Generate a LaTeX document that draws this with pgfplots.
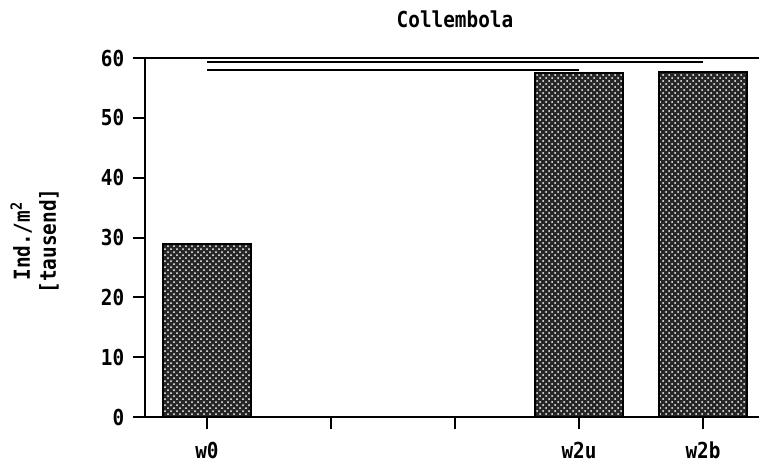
\documentclass[border=0pt]{standalone}
\usepackage{fontspec}
\setmainfont{DejaVu Sans Mono}[FakeStretch=0.88]
\usepackage{pgfplots}
\pgfplotsset{compat=1.18}
\usetikzlibrary{patterns}
\newcommand\chfont{\fontsize{11}{13}\selectfont\bfseries}
\begin{document}
\chfont
\begin{tikzpicture}
\path[use as bounding box] (0,0) rectangle (379.5pt,231pt);
\begin{axis}[
  at={(72.5pt,22.5pt)}, anchor=south west,
  scale only axis, width=310pt, height=179.5pt,
  xmin=-0.5, xmax=4.5, ymin=0, ymax=60,
  xtick={0,1,2,3,4}, xticklabels={w0,,,w2u,w2b},
  ytick={0,10,20,30,40,50,60},
  xtick pos=bottom, ytick pos=left,
  tick align=outside, major tick length=6pt,
  axis line style={line width=1pt},
  every tick/.style={black, line width=1pt},
  /pgf/number format/assume math mode=true,
  tick label style={font=\chfont},
  xticklabel style={yshift=-2.5pt},
  yticklabel style={xshift=-0.5pt},
  title={Collembola},
  title style={font=\chfont, yshift=5pt},
  ylabel={Ind./m\textsuperscript{2}\\{[}tausend{]}},
  ylabel style={align=center, at={(axis description cs:-0.178,0.49)}, anchor=center, font=\chfont},
  clip=false,
]
\addplot[ybar, bar width=44pt, bar shift=0pt, draw=black, line width=0.8pt,
  fill=black!85, postaction={pattern=crosshatch dots, pattern color=white}]
  coordinates {(0,28.9) (3,57.5) (4,57.7)};
\addplot[black, line width=1pt, mark=none] coordinates {(0,59.3) (4,59.3)};
\addplot[black, line width=1pt, mark=none] coordinates {(0,58.0) (3,58.0)};
\end{axis}
\end{tikzpicture}
\end{document}
